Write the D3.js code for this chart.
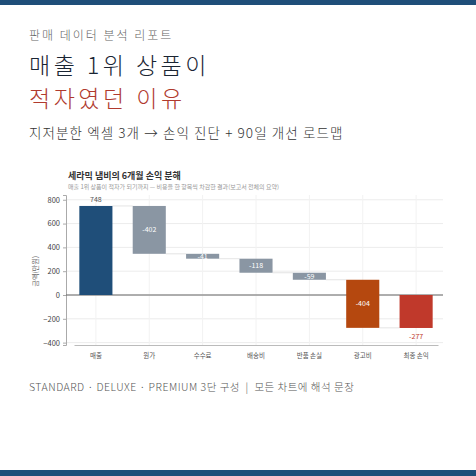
<!DOCTYPE html><html><head><meta charset="utf-8"><script src="https://cdn.jsdelivr.net/npm/d3@7"></script>
<style>body{margin:0;background:#fff}text{font-family:"Noto Sans CJK KR","Noto Sans",sans-serif}</style></head><body><svg id="c" width="476" height="476"></svg>
<script>
const categories=["매출","원가","수수료","배송비","반품 손실","광고비","최종 손익"];
const values=[748,-402,-41,-118,-59,-404,-277];
const kinds=["start","cost","cost","cost","cost","ad","total"];
const yTicks=[-400,-200,0,200,400,600,800];
const colors={start:"#1f4e79",cost:"#8a96a3",ad:"#b5480f",total:"#c0392b"};
const svg=d3.select("#c");
svg.append("rect").attr("width",476).attr("height",476).attr("fill","#fff");
svg.append("rect").attr("width",476).attr("height",5).attr("fill","#1f4e79");
svg.append("rect").attr("y",470).attr("width",476).attr("height",6).attr("fill","#1f4e79");
const T=(x,y,s,c,t,w,ls)=>svg.append("text").attr("x",x).attr("y",y).attr("font-size",s).attr("fill",c).attr("font-weight",w||400).attr("letter-spacing",ls||0).text(t);
T(29,40,12,"#666","판매 데이터 분석 리포트",300,2);
T(29,74,23,"#1a2533","매출 1위 상품이",300,3.5);
T(29,107,23,"#b03a2e","적자였던 이유",300,3.5);
T(29,138,13.5,"#333","지저분한 엑셀 3개 → 손익 진단 + 90일 개선 로드맵",300,1.1);
T(29,391,10.5,"#555","STANDARD · DELUXE · PREMIUM 3단 구성  |  모든 차트에 해석 문장",300,0.5).attr("xml:space","preserve");
T(68,179,9,"#333","세라믹 냄비의 6개월 손익 분해",700);
T(68,189,6,"#999","매출 1위 상품이 적자가 되기까지 — 비용을 한 항목씩 차감한 결과(보고서 전체의 요약)");
const x=d3.scaleBand().domain(categories).range([74,438]).paddingInner(0.38).paddingOuter(0.1);
const y=d3.scaleLinear().domain([-420,840]).range([345,195]);
const g=svg.append("g");
yTicks.forEach(t=>g.append("line").attr("x1",66).attr("x2",443).attr("y1",y(t)).attr("y2",y(t)).attr("stroke","#ececec"));
categories.forEach(c=>g.append("line").attr("x1",x(c)+x.bandwidth()/2).attr("x2",x(c)+x.bandwidth()/2).attr("y1",195).attr("y2",345).attr("stroke","#f2f2f2"));
const ya=svg.append("g").attr("transform","translate(66,0)").call(d3.axisLeft(y).tickValues(yTicks).tickSize(3));
ya.select(".domain").attr("stroke","#aaa");ya.selectAll("line").attr("stroke","#aaa");ya.selectAll("text").attr("font-size",7.5).attr("fill","#444");
const xa=svg.append("g").attr("transform","translate(0,345)").call(d3.axisBottom(x).tickSize(0).tickPadding(8));
xa.select(".domain").attr("stroke","#bbb");xa.selectAll("text").attr("font-size",6.5).attr("fill","#555");
svg.append("text").attr("transform",`translate(38,${y(200)}) rotate(-90)`).attr("text-anchor","middle").attr("font-size",7).attr("fill","#666").text("금액(만원)");
let cum=0;const bars=values.map((v,i)=>{let a,b;if(kinds[i]==="start"){a=0;b=v;cum=v}else if(kinds[i]==="total"){a=0;b=v}else{a=cum;b=cum+v;cum=b}return{c:categories[i],v,a,b,k:kinds[i]}});
bars.forEach((d,i)=>{if(i<bars.length-1){svg.append("line").attr("x1",x(d.c)+x.bandwidth()).attr("x2",x(bars[i+1].c)).attr("y1",y(d.b)).attr("y2",y(d.b)).attr("stroke","#ddd").attr("stroke-width",0.8)}});
svg.append("line").attr("x1",66).attr("x2",443).attr("y1",y(0)).attr("y2",y(0)).attr("stroke","#666").attr("stroke-width",1);
bars.forEach(d=>{const t=Math.max(d.a,d.b),bt=Math.min(d.a,d.b);
svg.append("rect").attr("x",x(d.c)).attr("width",x.bandwidth()).attr("y",y(t)).attr("height",y(bt)-y(t)).attr("fill",colors[d.k]);
let ly,col;
if(d.k==="start"){ly=y(t)-4;col="#555"}else if(d.k==="total"){ly=y(bt)+11;col="#c0392b"}else{ly=(y(t)+y(bt))/2+2.5;col="#fff"}
svg.append("text").attr("x",x(d.c)+x.bandwidth()/2).attr("y",ly).attr("text-anchor","middle").attr("font-size",7).attr("fill",col).text(d.v)});
</script></body></html>
